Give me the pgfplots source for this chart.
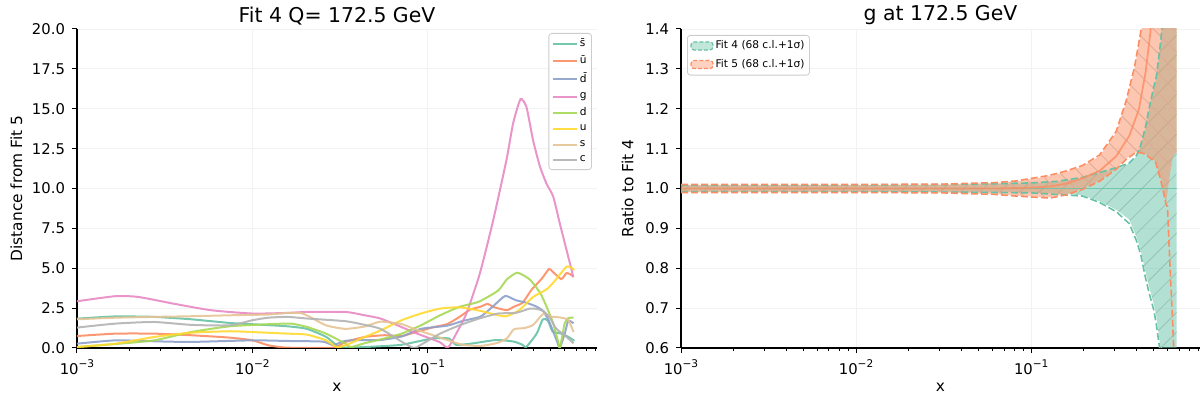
\documentclass[border=0pt]{standalone}
\usepackage{fontspec}
\setmainfont{DejaVu Sans}
\usepackage{pgfplots}
\pgfplotsset{compat=1.18}
\usepackage{pgfplotstable}
\usepgfplotslibrary{fillbetween}
\usetikzlibrary{patterns.meta}

\definecolor{stwoteal}{HTML}{66C2A5}
\definecolor{stwoorange}{HTML}{FC8D62}
\definecolor{stwoblue}{HTML}{8DA0CB}
\definecolor{stwopink}{HTML}{E78AC3}
\definecolor{stwolime}{HTML}{A6D854}
\definecolor{stwoyellow}{HTML}{FFD92F}
\definecolor{stwotan}{HTML}{E5C494}
\definecolor{stwogray}{HTML}{B3B3B3}

\newcommand{\tp}[1]{10\raisebox{0.8ex}{\fontsize{5.3}{6}\selectfont −#1}}

% left panel: x given as log10(x)
\pgfplotstableread{
lx v
-3.0 1.84
-2.78 1.98
-2.56 1.95
-2.35 1.8
-2.13 1.57
-2.0 1.49
-1.8 1.36
-1.69 1.2
-1.58 0.7
-1.52 0.17
-1.47 0.02
-1.36 0.06
-1.25 0.12
-1.15 0.2
-1.04 0.45
-0.97 0.6
-0.88 0.6
-0.84 0.2
-0.75 0.28
-0.61 0.5
-0.51 0.4
-0.46 0.2
-0.44 0.06
-0.38 0.9
-0.345 1.8
-0.315 1.7
-0.29 1.05
-0.24 0.9
-0.2 0.7
-0.165 0.45
}\tsbar
\pgfplotstableread{
lx v
-3.0 0.75
-2.78 0.9
-2.56 0.9
-2.35 0.8
-2.13 0.65
-2.0 0.48
-1.91 0.17
-1.8 0.02
-1.54 0.02
-1.47 0.38
-1.36 0.69
-1.25 0.8
-1.15 0.75
-1.08 0.96
-0.97 1.3
-0.89 1.5
-0.82 1.95
-0.76 2.4
-0.7 2.59
-0.66 2.76
-0.62 2.55
-0.55 2.37
-0.51 2.59
-0.46 2.84
-0.41 3.64
-0.35 4.36
-0.31 4.95
-0.29 4.8
-0.24 4.32
-0.21 4.7
-0.185 4.6
-0.17 4.45
}\tubar
\pgfplotstableread{
lx v
-3.0 0.27
-2.78 0.48
-2.56 0.42
-2.35 0.38
-2.0 0.48
-1.8 0.44
-1.6 0.4
-1.54 0.18
-1.47 0.45
-1.36 0.5
-1.27 0.5
-1.15 0.72
-1.04 1.2
-0.89 1.4
-0.8 1.7
-0.7 1.97
-0.63 2.6
-0.56 3.26
-0.5 3.0
-0.44 2.84
-0.38 2.59
-0.34 2.28
-0.305 1.55
-0.267 0.5
-0.248 0.03
-0.22 0.9
-0.2 1.7
-0.17 1.55
}\tdbar
\pgfplotstableread{
lx v
-3.0 2.93
-2.78 3.25
-2.65 3.2
-2.455 2.79
-2.237 2.37
-2.0 2.16
-1.8 2.2
-1.69 2.26
-1.47 2.26
-1.36 2.05
-1.274 1.86
-1.18 1.45
-1.084 1.0
-1.0 0.65
-0.93 0.35
-0.885 0.03
-0.837 0.93
-0.78 2.17
-0.704 4.67
-0.628 8.0
-0.552 11.8
-0.514 14.1
-0.472 15.6
-0.438 15.1
-0.4 13.0
-0.362 11.4
-0.324 10.3
-0.286 9.5
-0.248 7.8
-0.21 6.15
-0.181 4.9
-0.172 4.47
}\tg
\pgfplotstableread{
lx v
-3.0 0.06
-2.78 0.25
-2.56 0.48
-2.35 1.0
-2.13 1.36
-1.91 1.49
-1.78 1.53
-1.69 1.32
-1.58 0.9
-1.47 0.27
-1.44 0.05
-1.36 0.3
-1.25 0.59
-1.15 0.9
-1.04 1.42
-0.93 2.05
-0.82 2.58
-0.71 2.9
-0.6 3.6
-0.55 4.3
-0.49 4.72
-0.42 4.3
-0.36 3.45
-0.324 2.6
-0.286 1.55
-0.26 0.5
-0.248 0.0
-0.22 1.55
-0.2 1.87
-0.17 1.9
}\td
\pgfplotstableread{
lx v
-3.0 0.06
-2.78 0.27
-2.56 0.69
-2.35 0.96
-2.13 1.05
-2.0 1.0
-1.8 0.9
-1.69 0.84
-1.58 0.48
-1.52 0.06
-1.47 0.17
-1.36 0.69
-1.27 1.1
-1.15 1.74
-1.04 2.16
-0.93 2.47
-0.82 2.55
-0.71 2.35
-0.6 2.05
-0.55 2.0
-0.48 2.37
-0.4 3.2
-0.32 3.7
-0.27 4.3
-0.21 5.1
-0.185 5.05
-0.165 4.9
}\tu
\pgfplotstableread{
lx v
-3.0 1.8
-2.78 1.9
-2.56 1.95
-2.35 1.99
-2.13 2.05
-1.91 2.1
-1.8 2.2
-1.73 2.2
-1.69 2.05
-1.58 1.42
-1.47 1.2
-1.36 1.35
-1.27 1.65
-1.15 1.5
-1.08 1.2
-0.97 0.8
-0.89 0.5
-0.8 0.2
-0.7 0.13
-0.61 0.3
-0.55 0.6
-0.51 1.17
-0.45 1.25
-0.4 1.45
-0.34 2.17
-0.3 1.97
-0.25 1.92
-0.2 1.76
-0.17 1.0
}\ts
\pgfplotstableread{
lx v
-3.0 1.28
-2.78 1.53
-2.56 1.63
-2.35 1.45
-2.13 1.42
-2.0 1.74
-1.91 1.9
-1.8 1.95
-1.69 1.85
-1.47 1.68
-1.36 1.45
-1.27 1.2
-1.15 0.4
-1.08 0.0
-1.04 0.2
-0.93 0.9
-0.82 1.42
-0.71 1.84
-0.6 2.16
-0.5 2.2
-0.42 2.47
-0.38 2.45
-0.34 2.3
-0.3 1.8
-0.27 1.23
-0.21 0.7
-0.17 0.29
}\tc

% right panel: fill band (up, lo) and 1 sigma lines (su, sl)
\pgfplotstableread{
lx up lo su sl
-3.0 1.007 0.993 1.008 0.992
-2.0 1.008 0.993 1.009 0.992
-1.5 1.009 0.992 1.010 0.991
-1.2 1.011 0.991 1.012 0.990
-1.0 1.013 0.990 1.014 0.989
-0.85 1.017 0.987 1.018 0.985
-0.706 1.026 0.983 1.028 0.981
-0.61 1.038 0.968 1.040 0.965
-0.515 1.050 0.947 1.052 0.942
-0.44 1.062 0.922 1.064 0.912
-0.40 1.080 0.88 1.082 0.87
-0.375 1.105 0.845 1.108 0.835
-0.347 1.15 0.79 1.155 0.775
-0.325 1.2 0.75 1.205 0.735
-0.3 1.25 0.71 1.255 0.695
-0.286 1.275 0.68 1.28 0.66
-0.27 1.33 0.63 1.335 0.61
-0.258 1.375 0.58 1.38 0.56
-0.25 1.45 0.5 1.45 0.5
-0.17 1.6 0.5 1.6 0.5
}\fitfour
\pgfplotstableread{
lx up lo su sl
-3.0 1.009 0.991 1.010 0.990
-2.0 1.009 0.991 1.010 0.990
-1.5 1.010 0.990 1.011 0.989
-1.2 1.014 0.986 1.015 0.985
-1.085 1.018 0.982 1.019 0.981
-0.895 1.031 0.978 1.033 0.976
-0.8 1.042 0.986 1.044 0.984
-0.706 1.056 1.0 1.058 0.998
-0.61 1.081 1.02 1.084 1.018
-0.515 1.14 1.05 1.143 1.048
-0.458 1.216 1.075 1.22 1.073
-0.41 1.3 1.09 1.305 1.088
-0.373 1.392 1.092 1.397 1.09
-0.35 1.45 1.088 1.45 1.086
-0.29 1.6 1.068 1.6 1.066
-0.26 1.6 1.025 1.6 1.02
-0.24 1.6 0.985 1.6 0.98
-0.23 1.6 0.965 1.6 0.96
-0.222 1.6 0.99 1.6 0.955
-0.213 1.6 1.02 1.6 0.86
-0.203 1.6 1.05 1.6 0.76
-0.194 1.6 1.075 1.6 0.68
-0.185 1.6 1.085 1.6 0.58
-0.17 1.6 1.09 1.6 0.45
}\fitfive
\pgfplotstableread{
lx v
-3.0 1.0
-1.2 1.0
-1.0 1.002
-0.895 1.005
-0.8 1.012
-0.706 1.026
-0.61 1.044
-0.515 1.081
-0.44 1.132
-0.385 1.199
-0.347 1.291
-0.32 1.39
-0.31 1.45
}\fivec
\pgfplotstableread{
lx v
-3.0 1.0
-0.17 1.0
}\fourc

\tikzset{
  pdfcurve/.style={line width=1pt, opacity=0.9},
  sigdash/.style={line width=0.8pt, dash pattern=on 3.5pt off 1.5pt},
}

\begin{document}
\begin{tikzpicture}
\begin{axis}[
  scale only axis,
  xmode=log,
  xmin=1e-3, xmax=0.92,
  axis x line=bottom, axis y line=left,
  axis line style={-, line width=0.55pt},
  tick align=outside,
  major tick length=2.5pt, minor tick length=1.5pt,
  tick style={black, line width=0.5pt},
  xtick={1e-3,1e-2,1e-1},
  xticklabels={\tp{3},\tp{2},\tp{1}},
  minor xtick={0.002,0.003,0.004,0.005,0.006,0.007,0.008,0.009,
    0.02,0.03,0.04,0.05,0.06,0.07,0.08,0.09,
    0.2,0.3,0.4,0.5,0.6,0.7,0.8,0.9},
  grid=major, major grid style={black!5, line width=0.4pt},
  ticklabel style={font=\fontsize{7.4}{8.5}\selectfont},
  label style={font=\fontsize{7.7}{9}\selectfont},
  xlabel style={yshift=2.5pt},
  ylabel style={yshift=-2pt},
  title style={font=\fontsize{10.2}{12}\selectfont, yshift=-7.5pt},
  xlabel={x},
  at={(0pt,0pt)}, anchor=south west,
  width=260pt, height=159.5pt,
  ymin=0, ymax=20,
  ytick={0,2.5,5,7.5,10,12.5,15,17.5,20},
  yticklabels={0.0,2.5,5.0,7.5,10.0,12.5,15.0,17.5,20.0},
  ylabel={Distance from Fit 5},
  title={Fit 4 Q= 172.5 GeV},
  legend cell align=left,
  legend image code/.code={\draw[#1] (0pt,0pt) -- (12pt,0pt);},
  legend style={at={(1,1)}, anchor=north east, xshift=-2.5pt, yshift=-2pt,
    draw=black!20, rounded corners=1.5pt, fill=white, fill opacity=0.8,
    text opacity=1, font=\fontsize{5.3}{6}\selectfont,
    inner sep=1.5pt, row sep=1.2pt, nodes={inner sep=1pt}},
]
\addplot[pdfcurve, color=stwoteal, smooth, tension=0.35] table[x expr=10^(\thisrow{lx}), y=v] {\tsbar};
\addlegendentry{s̄}
\addplot[pdfcurve, color=stwoorange, smooth, tension=0.35] table[x expr=10^(\thisrow{lx}), y=v] {\tubar};
\addlegendentry{ū}
\addplot[pdfcurve, color=stwoblue, smooth, tension=0.35] table[x expr=10^(\thisrow{lx}), y=v] {\tdbar};
\addlegendentry{d̄}
\addplot[pdfcurve, color=stwopink, smooth, tension=0.35] table[x expr=10^(\thisrow{lx}), y=v] {\tg};
\addlegendentry{g}
\addplot[pdfcurve, color=stwolime, smooth, tension=0.35] table[x expr=10^(\thisrow{lx}), y=v] {\td};
\addlegendentry{d}
\addplot[pdfcurve, color=stwoyellow, smooth, tension=0.35] table[x expr=10^(\thisrow{lx}), y=v] {\tu};
\addlegendentry{u}
\addplot[pdfcurve, color=stwotan, smooth, tension=0.35] table[x expr=10^(\thisrow{lx}), y=v] {\ts};
\addlegendentry{s}
\addplot[pdfcurve, color=stwogray, smooth, tension=0.35] table[x expr=10^(\thisrow{lx}), y=v] {\tc};
\addlegendentry{c}
\end{axis}

\begin{axis}[
  scale only axis,
  xmode=log,
  xmin=1e-3, xmax=0.92,
  axis x line=bottom, axis y line=left,
  axis line style={-, line width=0.55pt},
  tick align=outside,
  major tick length=2.5pt, minor tick length=1.5pt,
  tick style={black, line width=0.5pt},
  xtick={1e-3,1e-2,1e-1},
  xticklabels={\tp{3},\tp{2},\tp{1}},
  minor xtick={0.002,0.003,0.004,0.005,0.006,0.007,0.008,0.009,
    0.02,0.03,0.04,0.05,0.06,0.07,0.08,0.09,
    0.2,0.3,0.4,0.5,0.6,0.7,0.8,0.9},
  grid=major, major grid style={black!5, line width=0.4pt},
  ticklabel style={font=\fontsize{7.4}{8.5}\selectfont},
  label style={font=\fontsize{7.7}{9}\selectfont},
  xlabel style={yshift=2.5pt},
  ylabel style={yshift=-1pt},
  title style={font=\fontsize{10.2}{12}\selectfont, yshift=-7.5pt},
  xlabel={x},
  at={(302pt,0pt)}, anchor=south west,
  width=259.5pt, height=159.5pt,
  ymin=0.6, ymax=1.4,
  ytick={0.6,0.7,0.8,0.9,1.0,1.1,1.2,1.3,1.4},
  yticklabels={0.6,0.7,0.8,0.9,1.0,1.1,1.2,1.3,1.4},
  ylabel={Ratio to Fit 4},
  title={g at 172.5 GeV},
  legend cell align=left,
  legend image code/.code={\draw[#1] (0pt,-2pt) rectangle (11pt,2pt);},
  legend style={at={(0,1)}, anchor=north west, xshift=3pt, yshift=-3pt,
    draw=black!20, rounded corners=1.5pt, fill=white, fill opacity=0.8,
    text opacity=1, font=\fontsize{5.3}{6}\selectfont,
    inner sep=1.5pt, row sep=1.8pt, nodes={inner sep=1pt}},
]
\addlegendimage{draw=stwoteal, fill=stwoteal!50, line width=0.6pt, dash pattern=on 2pt off 1pt}
\addlegendentry{Fit 4 (68 c.l.+1σ)}
\addlegendimage{draw=stwoorange, fill=stwoorange!50, line width=0.6pt, dash pattern=on 2pt off 1pt}
\addlegendentry{Fit 5 (68 c.l.+1σ)}

% Fit 4 band
\addplot[draw=none, forget plot, name path=fu] table[x expr=10^(\thisrow{lx}), y=up] {\fitfour};
\addplot[draw=none, forget plot, name path=fl] table[x expr=10^(\thisrow{lx}), y=lo] {\fitfour};
\addplot[fill=stwoteal, fill opacity=0.5, draw=none, forget plot] fill between[of=fu and fl];
\addplot[pattern={Lines[angle=45, distance=7pt, line width=0.4pt]}, pattern color=stwoteal!80!black!60, draw=none, forget plot] fill between[of=fu and fl];
\addplot[color=stwoteal, line width=0.9pt, opacity=0.8, forget plot] table[x expr=10^(\thisrow{lx}), y=v] {\fourc};
\addplot[color=stwoteal, sigdash, forget plot] table[x expr=10^(\thisrow{lx}), y=su] {\fitfour};
\addplot[color=stwoteal, sigdash, forget plot] table[x expr=10^(\thisrow{lx}), y=sl] {\fitfour};

% Fit 5 band
\addplot[draw=none, forget plot, name path=vu] table[x expr=10^(\thisrow{lx}), y=up] {\fitfive};
\addplot[draw=none, forget plot, name path=vl] table[x expr=10^(\thisrow{lx}), y=lo] {\fitfive};
\addplot[fill=stwoorange, fill opacity=0.5, draw=none, forget plot] fill between[of=vu and vl];
\addplot[pattern={Lines[angle=-45, distance=7pt, line width=0.4pt]}, pattern color=stwoorange!80!black!60, draw=none, forget plot] fill between[of=vu and vl];
\addplot[color=stwoorange, line width=0.9pt, opacity=0.8, forget plot] table[x expr=10^(\thisrow{lx}), y=v] {\fivec};
\addplot[color=stwoorange, sigdash, forget plot] table[x expr=10^(\thisrow{lx}), y=su] {\fitfive};
\addplot[color=stwoorange, sigdash, forget plot] table[x expr=10^(\thisrow{lx}), y=sl] {\fitfive};
\end{axis}
\pgfresetboundingbox
\path[use as bounding box] (-38.5pt,-26pt) rectangle (561.5pt,174pt);
\end{tikzpicture}
\end{document}
